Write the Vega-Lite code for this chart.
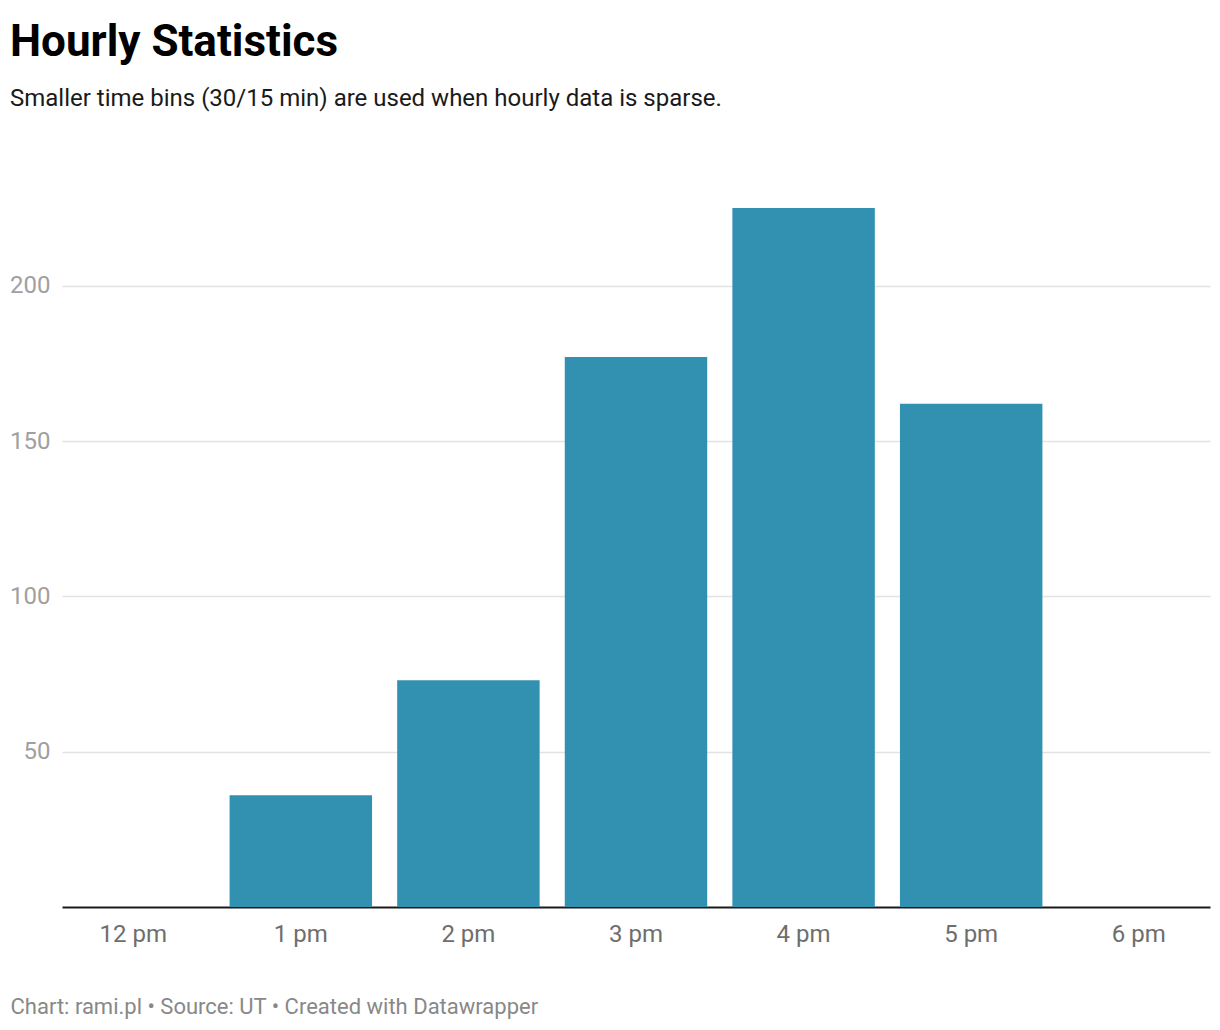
{
  "$schema": "https://vega.github.io/schema/vega-lite/v6.json",
  "width": 1148,
  "height": 699,
  "autosize": {"type": "none"},
  "padding": {"left": 62, "right": 10, "top": 208, "bottom": 123},
  "background": "white",
  "title": {
    "text": "Hourly Statistics",
    "subtitle": "Smaller time bins (30/15 min) are used when hourly data is sparse.",
    "anchor": "start",
    "frame": "group",
    "dx": -52,
    "offset": 97,
    "font": "Roboto",
    "fontSize": 44,
    "fontWeight": "bold",
    "color": "#000000",
    "subtitleFont": "Roboto",
    "subtitleFontSize": 24,
    "subtitleColor": "#1a1a1a",
    "subtitlePadding": 22
  },
  "data": {
    "values": [
      {"hour": "12 pm", "count": 0},
      {"hour": "1 pm", "count": 36},
      {"hour": "2 pm", "count": 73},
      {"hour": "3 pm", "count": 177},
      {"hour": "4 pm", "count": 225},
      {"hour": "5 pm", "count": 162},
      {"hour": "6 pm", "count": 0}
    ]
  },
  "mark": {"type": "bar", "color": "#3290b1"},
  "encoding": {
    "x": {
      "field": "hour",
      "type": "ordinal",
      "sort": null,
      "scale": {"paddingInner": 0.15, "paddingOuter": 0},
      "axis": {
        "title": "Chart: rami.pl • Source: UT • Created with Datawrapper",
        "titleX": -52,
        "titleY": 106,
        "titleAlign": "left",
        "titleAnchor": null,
        "titleBaseline": "alphabetic",
        "titleFont": "Roboto",
        "titleFontSize": 22,
        "titleFontWeight": "normal",
        "titleColor": "#888888",
        "labelAngle": 0,
        "labelFont": "Roboto",
        "labelFontSize": 24,
        "labelColor": "#6e6e6e",
        "labelPadding": 15,
        "ticks": false,
        "domainColor": "#1a1a1a",
        "domainWidth": 2
      }
    },
    "y": {
      "field": "count",
      "type": "quantitative",
      "scale": {"domain": [0, 225], "nice": false},
      "axis": {
        "title": null,
        "values": [50, 100, 150, 200],
        "domain": false,
        "ticks": false,
        "grid": true,
        "gridColor": "#e3e3e3",
        "gridWidth": 1.5,
        "labelFont": "Roboto",
        "labelFontSize": 24,
        "labelColor": "#a0a0a0",
        "labelPadding": 12
      }
    }
  },
  "config": {"view": {"stroke": null}}
}
